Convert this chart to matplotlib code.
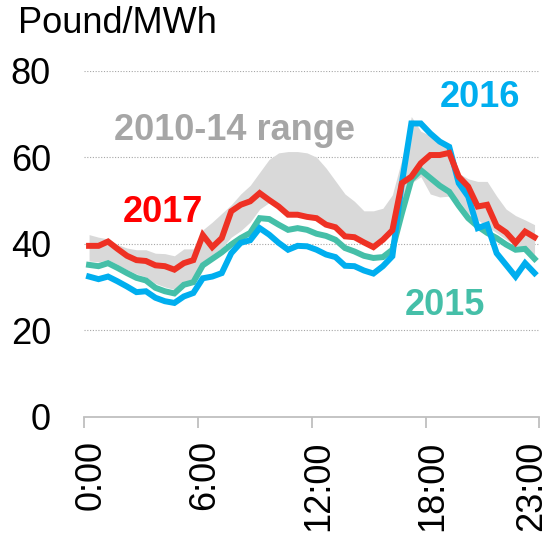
import matplotlib
matplotlib.use("Agg")
import matplotlib.pyplot as plt
import matplotlib.transforms as mtransforms
import numpy as np

# Half-hourly slots 0:00 .. 23:30
tick_labels = ["0:00", "6:00", "12:00", "18:00", "23:00"]

y2017 = [39.5, 39.5, 40.5, 38.8, 37.2, 36.2, 36.0, 35.0, 34.8, 34.0, 35.5, 36.2,
         42.0, 39.2, 41.3, 47.5, 49.0, 49.8, 51.7, 50.1, 48.6, 46.7, 46.7, 46.2,
         45.9, 44.4, 43.8, 41.7, 41.5, 40.3, 39.2, 40.9, 43.1, 54.0, 55.5, 58.6,
         60.5, 60.5, 61.0, 55.5, 53.2, 48.6, 49.0, 44.1, 42.6, 40.2, 42.8, 41.5]

y2016 = [32.4, 31.8, 32.4, 31.3, 30.1, 28.8, 29.0, 27.5, 26.7, 26.3, 27.8, 28.6,
         32.0, 32.4, 33.2, 37.8, 40.2, 40.8, 43.6, 42.1, 40.2, 38.6, 39.5, 39.4,
         38.6, 37.5, 36.9, 34.9, 34.8, 33.8, 33.1, 34.8, 37.1, 54.0, 67.8, 67.8,
         65.5, 63.6, 62.4, 54.0, 50.9, 43.6, 44.4, 37.8, 35.1, 32.4, 35.5, 33.2]

y2015 = [35.1, 34.8, 35.5, 34.4, 33.2, 32.1, 31.5, 29.8, 29.0, 28.5, 30.5, 31.1,
         35.0, 36.5, 38.0, 39.8, 41.3, 42.5, 45.9, 45.7, 44.4, 43.2, 43.6, 43.2,
         42.3, 41.8, 40.9, 39.0, 38.2, 37.2, 36.7, 36.9, 38.6, 47.0, 54.8, 57.0,
         55.2, 53.4, 52.0, 48.8, 45.9, 44.0, 42.5, 41.3, 39.8, 38.6, 38.8, 36.5]

range_hi = [42.1, 41.5, 41.1, 39.8, 39.0, 38.6, 38.6, 37.8, 37.7, 37.2, 38.8, 38.8,
            43.2, 45.0, 47.0, 49.0, 51.5, 53.5, 56.5, 59.5, 61.0, 61.3, 61.3, 61.0,
            60.0, 57.5, 54.5, 51.5, 49.8, 47.6, 47.6, 48.2, 51.3, 59.5, 69.4, 66.0,
            65.0, 64.4, 62.8, 56.3, 55.0, 54.4, 54.4, 51.0, 48.0, 46.5, 45.5, 44.4]

range_lo = [36.0, 35.8, 36.3, 35.2, 34.0, 33.0, 32.3, 30.8, 30.0, 29.4, 31.0, 31.8,
            35.8, 37.5, 39.0, 41.5, 43.0, 45.0, 48.0, 49.5, 48.6, 46.7, 46.7, 46.2,
            45.9, 44.4, 43.8, 41.7, 41.5, 40.3, 39.2, 40.9, 43.3, 47.0, 54.0, 55.5,
            51.5, 50.8, 51.0, 50.0, 47.0, 45.5, 44.0, 42.5, 41.0, 39.5, 39.3, 37.5]

FONT = "Liberation Sans"
plt.rcParams["font.family"] = [FONT, "DejaVu Sans"]

C_RED = "#EE3124"
C_BLUE = "#00AEEF"
C_TEAL = "#45BFA8"
C_BAND = "#D9D9D9"
C_AXIS = "#BFBFBF"

n = len(y2017)
x = np.arange(n) + 0.5

fig = plt.figure(figsize=(5.5, 5.34), dpi=100)
ax = fig.add_axes([0.1533, 0.2197, 0.9805 - 0.1533, 0.8676 - 0.2197])

ax.fill_between(x, range_lo, range_hi, color=C_BAND, lw=0, zorder=1)
ax.plot(x, y2015, color=C_TEAL, lw=4.3, zorder=3, solid_joinstyle="miter")
ax.plot(x, y2016, color=C_BLUE, lw=4.3, zorder=4, solid_joinstyle="miter")
ax.plot(x, y2017, color=C_RED, lw=4.3, zorder=5, solid_joinstyle="miter")

ax.set_xlim(0, n)
ax.set_ylim(0, 80)
ax.set_yticks([0, 20, 40, 60, 80])
ax.set_xticks([0, 12, 24, 36, 48])
ax.set_xticklabels(tick_labels, rotation=90)

for v in [20, 40, 60, 80]:
    ax.axhline(v, color="#A6A6A6", lw=0.8, ls=(0, (1, 1.5)), zorder=0)

for s in ["top", "right", "left"]:
    ax.spines[s].set_visible(False)
ax.spines["bottom"].set_color(C_AXIS)
ax.spines["bottom"].set_linewidth(1.3)
ax.spines["bottom"].set_zorder(2)

ax.tick_params(axis="x", colors=C_AXIS, length=8, width=1.3, pad=9,
               labelsize=26, labelcolor="black")
ax.tick_params(axis="y", length=0, pad=24, labelsize=26, labelcolor="black")

# shift x tick labels slightly (last one pulled inward to fit)
shifts_px = [7, 7, 7, 7, -8]
for lab, dx in zip(ax.get_xticklabels(), shifts_px):
    off = mtransforms.ScaledTranslation(dx / 100.0, 0, fig.dpi_scale_trans)
    lab.set_transform(lab.get_transform() + off)

fig.text(18 / 550, 1 - 33 / 534, "Pound/MWh", fontsize=26, ha="left", va="baseline")

ax.text(41.7, 71.6, "2016", color=C_BLUE, fontsize=26, fontweight="bold",
        ha="center", va="baseline")
ax.text(15.85, 64.0, "2010-14 range", color="#A6A6A6", fontsize=26,
        fontweight="bold", ha="center", va="baseline")
ax.text(8.3, 45.1, "2017", color="#FF0000", fontsize=26, fontweight="bold",
        ha="center", va="baseline")
ax.text(38.05, 23.6, "2015", color=C_TEAL, fontsize=26, fontweight="bold",
        ha="center", va="baseline")

fig.savefig("out.png", dpi=100)
